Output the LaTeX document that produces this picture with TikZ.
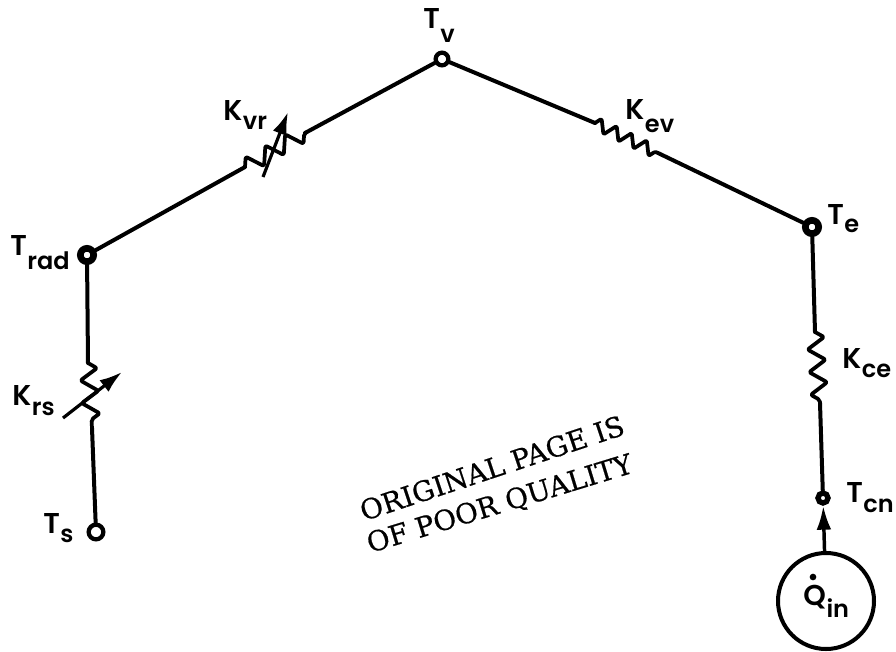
\documentclass[tikz,border=0pt]{standalone}
\usepackage{fontspec}
\setmainfont{Poppins SemiBold}
\newfontfamily\stampfont{DejaVu Serif}[FakeBold=0.6]
\usetikzlibrary{decorations.pathmorphing,arrows.meta}
% #1 main letter, #2 subscript, #3 drop of the subscript
\newcommand{\lab}[3]{{\fontsize{21.5}{21.5}\selectfont #1}\hspace{0.5pt}\raisebox{-#3}{\fontsize{18}{18}\selectfont #2}}
\tikzset{
  wire/.style={line width=3pt,line cap=round,line join=round,black},
  res/.style={wire,line width=2.8pt,rounded corners=1.5pt,decorate,decoration={zigzag,segment length=17pt,amplitude=6.5pt}},
  ressmall/.style={wire,line width=2.8pt,rounded corners=1pt,decorate,decoration={zigzag,segment length=12.5pt,amplitude=5pt}},
  term/.style={circle,draw=black,line width=5pt,fill=white,inner sep=0pt,minimum size=10pt},
  txt/.style={inner sep=0pt,anchor=base west,text=black},
  varr/.style={line width=2.4pt,-{Latex[length=17pt,width=11pt]},black},
  stamp/.style={inner sep=0pt,text=black,font=\stampfont\fontsize{20.8}{20.8}\selectfont}
}
\begin{document}
\begin{tikzpicture}[x=0.75pt,y=-0.75pt]
\useasboundingbox (0,0) rectangle (896,651);
% terminals
\node[term,line width=3.2pt,minimum size=9.5pt] (tv) at (442,59) {};
\node[term] (trad) at (87,255) {};
\node[term] (te) at (812,227) {};
\node[term,line width=3.2pt,minimum size=11pt] (ts) at (96,532) {};
\node[term,line width=4pt,minimum size=7.5pt] (tcn) at (823,498) {};
\node[circle,draw=black,line width=3pt,minimum size=72pt,inner sep=0pt] (qin) at (826,601) {};
% resistor ends
\coordinate (vr1) at (245,167); \coordinate (vr2) at (305,133);
\coordinate (ev1) at (595,123); \coordinate (ev2) at (658,153);
\coordinate (rs1) at (88,363); \coordinate (rs2) at (92,428);
\coordinate (ce1) at (815,332); \coordinate (ce2) at (820,403);
% wires
\draw[wire] (trad) -- (vr1); \draw[wire] (vr2) -- (tv);
\draw[wire] (tv) -- (ev1); \draw[wire] (ev2) -- (te);
\draw[wire] (trad) -- (rs1); \draw[wire] (rs2) -- (ts);
\draw[wire] (te) -- (ce1); \draw[wire] (ce2) -- (tcn);
% resistors
\draw[res] (vr1) -- (vr2);
\draw[ressmall] (ev1) -- (ev2);
\draw[res] (rs1) -- (rs2);
\draw[res] (ce1) -- (ce2);
% variable arrows
\coordinate (ar1) at (263,177); \coordinate (ar2) at (288,112);
\coordinate (as1) at (63,418); \coordinate (as2) at (122,372);
\draw[varr] (ar1) -- (ar2);
\draw[varr] (as1) -- (as2);
% heat flow
\draw[line width=2.6pt,-{Latex[length=18pt,width=11pt]}] (qin) -- (tcn);
% labels
\node[txt] (ltv) at (423,28) {\lab{T}{v}{11pt}};
\node[txt] (lkvr) at (223,120) {\lab{K}{vr}{7pt}};
\node[txt] (lkev) at (625,119) {\lab{K}{ev}{10pt}};
\node[txt] (ltrad) at (10,255) {\lab{T}{rad}{11pt}};
\node[txt] (lte) at (827,224) {\lab{T}{e}{6pt}};
\node[txt] (lkrs) at (12,405) {\lab{K}{rs}{7.5pt}};
\node[txt] (lkce) at (842,368) {\lab{K}{ce}{7pt}};
\node[txt] (lts) at (43,533) {\lab{T}{s}{7pt}};
\node[txt] (ltcn) at (846,502) {\lab{T}{cn}{8pt}};
\node[txt] (lq) at (803,605) {\lab{Q}{in}{9pt}};
\node[circle,fill=black,inner sep=0pt,minimum size=5pt] (qdot) at (813,577) {};
% stamp
\node[stamp,rotate=18.4] (st1) at (492,468) {ORIGINAL PAGE IS};
\node[stamp,rotate=17] (st2) at (500,505) {OF POOR QUALITY};
\end{tikzpicture}
\end{document}
